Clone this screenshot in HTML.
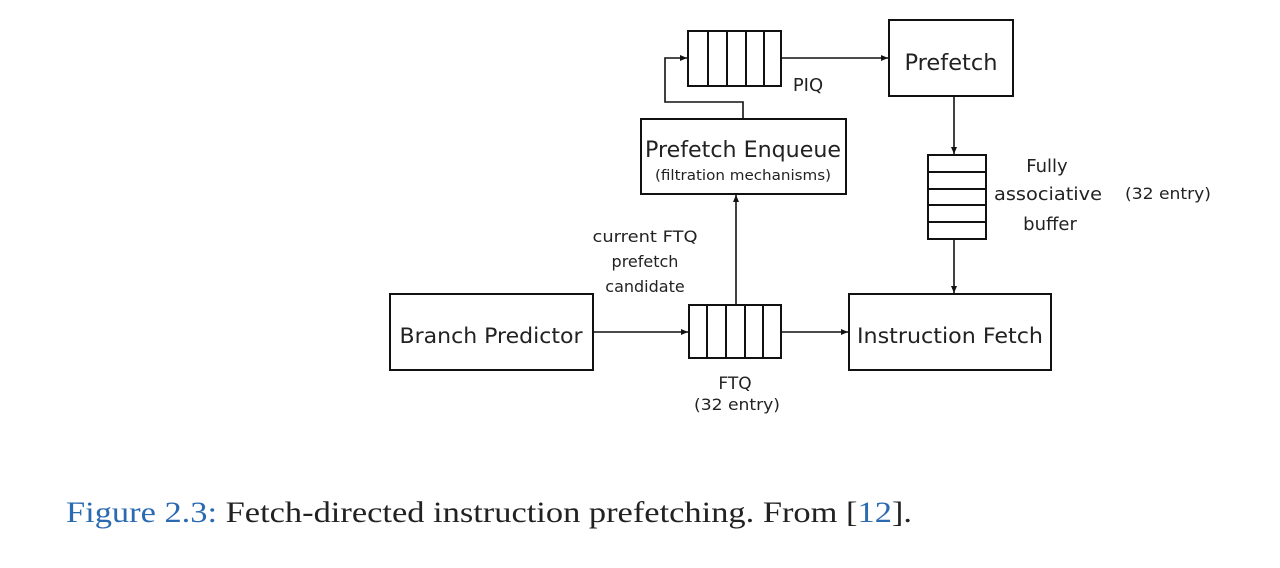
<!DOCTYPE html>
<html><head><meta charset="utf-8"><style>
html,body{margin:0;padding:0;background:#fff;width:1280px;height:568px;overflow:hidden}
svg{display:block}
text{font-family:"DejaVu Sans","Liberation Sans",sans-serif;fill:#222}
</style></head><body>
<svg width="1280" height="568" viewBox="0 0 1280 568">
<defs><marker id="a" markerWidth="8" markerHeight="8" refX="7" refY="4" orient="auto" markerUnits="userSpaceOnUse"><path d="M0,1 L7,4 L0,7 z" fill="#111"/></marker></defs>
<g fill="none" stroke="#111" stroke-width="2">
<rect x="688" y="31" width="93" height="55"/>
<line x1="708" y1="31" x2="708" y2="86"/><line x1="727" y1="31" x2="727" y2="86"/><line x1="746" y1="31" x2="746" y2="86"/><line x1="764" y1="31" x2="764" y2="86"/>
<rect x="889" y="20" width="124" height="76"/>
<rect x="641" y="119" width="205" height="75"/>
<rect x="928" y="155" width="58" height="84"/>
<line x1="928" y1="172" x2="986" y2="172"/><line x1="928" y1="189" x2="986" y2="189"/><line x1="928" y1="205" x2="986" y2="205"/><line x1="928" y1="222" x2="986" y2="222"/>
<rect x="390" y="294" width="203" height="76"/>
<rect x="689" y="305" width="92" height="53"/>
<line x1="707" y1="305" x2="707" y2="358"/><line x1="726" y1="305" x2="726" y2="358"/><line x1="745" y1="305" x2="745" y2="358"/><line x1="763" y1="305" x2="763" y2="358"/>
<rect x="849" y="294" width="202" height="76"/>
</g>
<g fill="none" stroke="#111" stroke-width="1.6">
<polyline points="743,119 743,102 665,102 665,58 687,58" marker-end="url(#a)"/>
<line x1="781" y1="58" x2="888" y2="58" marker-end="url(#a)"/>
<line x1="954" y1="96" x2="954" y2="154" marker-end="url(#a)"/>
<line x1="954" y1="239" x2="954" y2="293" marker-end="url(#a)"/>
<line x1="593" y1="332" x2="688" y2="332" marker-end="url(#a)"/>
<line x1="781" y1="332" x2="848" y2="332" marker-end="url(#a)"/>
<line x1="736" y1="305" x2="736" y2="195" marker-end="url(#a)"/>
</g>
<g text-anchor="middle">
<text x="951" y="70" font-size="22" textLength="93" lengthAdjust="spacingAndGlyphs">Prefetch</text>
<text x="808" y="91" font-size="18">PIQ</text>
<text x="743" y="157" font-size="22" textLength="196" lengthAdjust="spacingAndGlyphs">Prefetch Enqueue</text>
<text x="743" y="180" font-size="14" textLength="176" lengthAdjust="spacingAndGlyphs">(filtration mechanisms)</text>
<text x="1047" y="172" font-size="18">Fully</text>
<text x="1048" y="200" font-size="18" textLength="108" lengthAdjust="spacingAndGlyphs">associative</text>
<text x="1050" y="230" font-size="18">buffer</text>
<text x="1168" y="199" font-size="16" textLength="86" lengthAdjust="spacingAndGlyphs">(32 entry)</text>
<text x="645" y="242" font-size="16" textLength="105" lengthAdjust="spacingAndGlyphs">current FTQ</text>
<text x="645" y="267" font-size="16">prefetch</text>
<text x="645" y="292" font-size="16">candidate</text>
<text x="491" y="343" font-size="21" textLength="183" lengthAdjust="spacingAndGlyphs">Branch Predictor</text>
<text x="950" y="343" font-size="21" textLength="186" lengthAdjust="spacingAndGlyphs">Instruction Fetch</text>
<text x="735" y="389" font-size="17">FTQ</text>
<text x="737" y="410" font-size="16" textLength="86" lengthAdjust="spacingAndGlyphs">(32 entry)</text>
</g>
<text x="66" y="522" font-size="30" style="font-family:'Liberation Serif',serif" textLength="846" lengthAdjust="spacingAndGlyphs"><tspan style="fill:#2a6ab0">Figure 2.3:</tspan> Fetch-directed instruction prefetching. From [<tspan style="fill:#2a6ab0">12</tspan>].</text>
</svg>
</body></html>
